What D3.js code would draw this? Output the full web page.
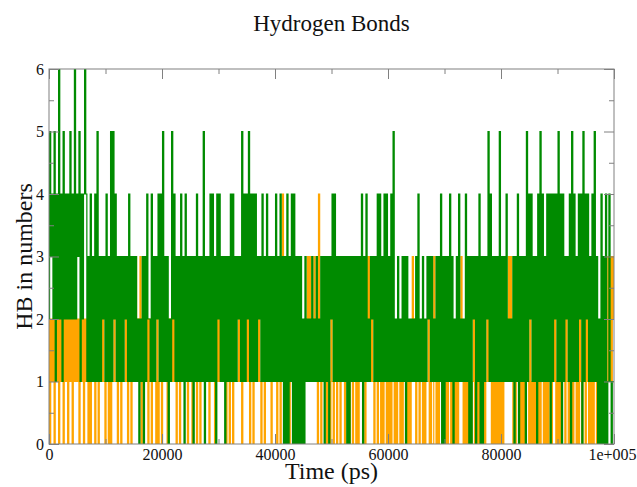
<!DOCTYPE html>
<html>
<head>
<meta charset="utf-8">
<script src="https://cdn.jsdelivr.net/npm/d3@7/dist/d3.min.js"></script>
<style>
  html, body { margin: 0; padding: 0; background: #fff; }
  svg { display: block; }
</style>
</head>
<body>
<svg id="chart" width="637" height="487"></svg>
<script>
// Hydrogen bond count along the trajectory, one sample every 200 ps.
// Each string holds ten consecutive samples (2000 ps).
const sampleStep = 200;

const hbOrange = [
  "2021202120","2120213021","2021212021","2021201012","1011012121",
  "0110101121","1011011121","0110121312","1302131202","1011102011",
  "0111101212","1310110221","1110111011","1011011111","1101111012",
  "1213131011","0110211121","1011212101","1013112101","1011111011",
  "1101101411","0110110110","1101101213","1312131204","1011110110",
  "2101101101","2101110110","1101011111","0131312101","1011010110",
  "1010110101","1010110101","0131203101","1010112010","0310101101",
  "1010110101","0101131010","1011012010","1010110131","2101010101",
  "0101121313","1010110101","0101102010","1010101101","0101102120",
  "1010112021","0101011010","2101202101","0101101101","1010131313",
  "2"
];

const hbGreen = [
  "2534251426","2415242425","2426243514","2464131413","1415131323",
  "1413151524","1313131323","1413131312","0213031422","1413132414",
  "1513130215","2413131413","0413131303","1413131503","1314141304",
  "2413130313","1414131323","1514142514","1414132314","1314131313",
  "1413141303","0403140403","0303020312","1213121312","1313031303",
  "2414131313","1313030313","1313131403","1412132313","1414131414",
  "1314151213","1213130312","1212131412","1312132313","1213131403",
  "0313141302","1314121214","1303032303","1403031325","1413131315",
  "1313141212","1303140313","1305142413","1304151413","1414041424",
  "1514041323","1405141314","2405142413","1415130204","0304014101",
  "1"
];

const xMajorTicks = [0, 20000, 40000, 60000, 80000, 100000];
const xTickLabels = ["0", "20000", "40000", "60000", "80000", "1e+005"];
const xMinorTicks = [10000, 30000, 50000, 70000, 90000];
const yMajorTicks = [0, 1, 2, 3, 4, 5, 6];
const yMinorTicks = [0.5, 1.5, 2.5, 3.5, 4.5, 5.5];

const titleText = "Hydrogen Bonds";
const xLabelText = "Time (ps)";
const yLabelText = "HB in numbers";

function toSeries(blocks) {
  const vals = blocks.join("").split("").map(Number);
  return vals.map((v, i) => ({ t: i * sampleStep, v }));
}

const orangeData = toSeries(hbOrange);
const greenData = toSeries(hbGreen);

const W = 637, H = 487;
const margin = { left: 49, right: 23, top: 69, bottom: 43 };
const x0 = margin.left, x1 = W - margin.right;
const y0 = H - margin.bottom, y1 = margin.top;

const x = d3.scaleLinear().domain([0, 100000]).range([x0, x1]);
const y = d3.scaleLinear().domain([0, 6]).range([y0, y1]);

const svg = d3.select("#chart");
const serif = "'Liberation Serif', 'Times New Roman', serif";
const frameColor = "#808080";

svg.append("defs").append("clipPath").attr("id", "plotClip")
  .append("rect").attr("x", x0).attr("y", y1).attr("width", x1 - x0).attr("height", y0 - y1);

// dense samples: each change of count shows as a vertical stroke
const line = d3.line().curve(d3.curveStep).x(d => x(d.t)).y(d => y(d.v));

const plot = svg.append("g").attr("clip-path", "url(#plotClip)");
plot.append("path").datum(orangeData)
  .attr("d", line).attr("fill", "none")
  .attr("stroke", "#ffa500").attr("stroke-width", 1.2);
plot.append("path").datum(greenData)
  .attr("d", line).attr("fill", "none")
  .attr("stroke", "#008b00").attr("stroke-width", 1.2);

// frame
svg.append("rect").attr("x", x0).attr("y", y1)
  .attr("width", x1 - x0).attr("height", y0 - y1)
  .attr("fill", "none").attr("stroke", frameColor).attr("stroke-width", 1);

function styleAxis(g) {
  g.select(".domain").remove();
  g.selectAll(".tick line").attr("stroke", frameColor);
  g.selectAll(".tick text").attr("fill", "#111")
    .style("font-family", serif).style("font-size", "16px");
}

// bottom
const bottom = svg.append("g").attr("transform", `translate(0,${y0})`)
  .call(d3.axisBottom(x).tickValues(xMajorTicks).tickSize(-10).tickPadding(5)
    .tickFormat((d, i) => xTickLabels[i]))
  .call(styleAxis);
// last label sits flush with the right edge of the page
bottom.selectAll(".tick text").filter(d => d === 100000)
  .attr("text-anchor", "end").attr("x", W - 1 - x1);
svg.append("g").attr("transform", `translate(0,${y0})`)
  .call(d3.axisBottom(x).tickValues(xMinorTicks).tickSize(-5).tickFormat(""))
  .call(styleAxis);
// top
svg.append("g").attr("transform", `translate(0,${y1})`)
  .call(d3.axisTop(x).tickValues(xMajorTicks).tickSize(-10).tickFormat(""))
  .call(styleAxis);
svg.append("g").attr("transform", `translate(0,${y1})`)
  .call(d3.axisTop(x).tickValues(xMinorTicks).tickSize(-5).tickFormat(""))
  .call(styleAxis);
// left
svg.append("g").attr("transform", `translate(${x0},0)`)
  .call(d3.axisLeft(y).tickValues(yMajorTicks).tickSize(-10).tickPadding(5)
    .tickFormat(d3.format("d")))
  .call(styleAxis);
svg.append("g").attr("transform", `translate(${x0},0)`)
  .call(d3.axisLeft(y).tickValues(yMinorTicks).tickSize(-5).tickFormat(""))
  .call(styleAxis);
// right
svg.append("g").attr("transform", `translate(${x1},0)`)
  .call(d3.axisRight(y).tickValues(yMajorTicks).tickSize(-10).tickFormat(""))
  .call(styleAxis);
svg.append("g").attr("transform", `translate(${x1},0)`)
  .call(d3.axisRight(y).tickValues(yMinorTicks).tickSize(-5).tickFormat(""))
  .call(styleAxis);

// titles
svg.append("text").attr("x", (x0 + x1) / 2).attr("y", 31)
  .attr("text-anchor", "middle").attr("fill", "#111")
  .style("font-family", serif).style("font-size", "23px")
  .text(titleText);

svg.append("text").attr("x", (x0 + x1) / 2).attr("y", 479)
  .attr("text-anchor", "middle").attr("fill", "#111")
  .style("font-family", serif).style("font-size", "24px")
  .text(xLabelText);

svg.append("text")
  .attr("transform", `translate(32,${(y0 + y1) / 2}) rotate(-90)`)
  .attr("text-anchor", "middle").attr("fill", "#111")
  .style("font-family", serif).style("font-size", "24px")
  .text(yLabelText);
</script>
</body>
</html>
